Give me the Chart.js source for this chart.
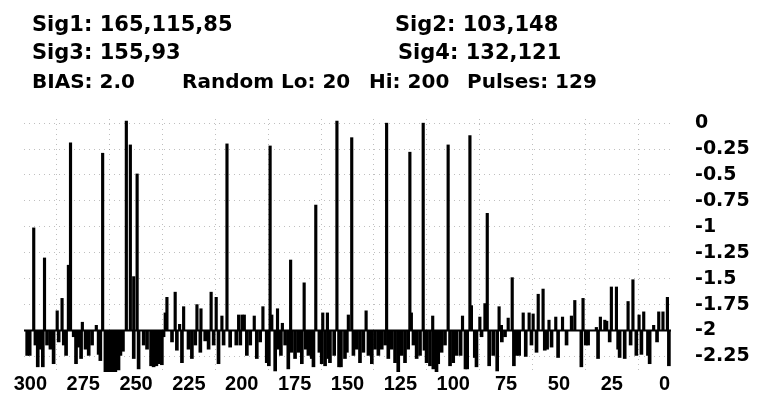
<!DOCTYPE html>
<html>
<head>
<meta charset="utf-8">
<script src="https://cdn.jsdelivr.net/npm/chart.js@4.4.0/dist/chart.umd.min.js"></script>
<style>
  body { margin: 0; background: #fff; }
  #wrap { position: relative; width: 760px; height: 396px; }
  .hdr { position: absolute; font: bold 21px "DejaVu Sans"; line-height: 21px; color: #000; white-space: pre; }
  .hdr.small { font-size: 20px; }
</style>
</head>
<body>
<div id="wrap">
  <canvas id="pulse-chart" width="760" height="396"></canvas>
  <div class="hdr" id="sig1-txt" style="left:32px; top:14px"></div>
  <div class="hdr" id="sig2-txt" style="left:395px; top:14px"></div>
  <div class="hdr" id="sig3-txt" style="left:32px; top:42px"></div>
  <div class="hdr" id="sig4-txt" style="left:398px; top:42px"></div>
  <div class="hdr small" id="bias-txt" style="left:32px; top:71px"></div>
  <div class="hdr small" id="lo-txt" style="left:182px; top:71px"></div>
  <div class="hdr small" id="hi-txt" style="left:369px; top:71px"></div>
  <div class="hdr small" id="pulses-txt" style="left:467px; top:71px"></div>
</div>
<script>
// header values
const sig1 = [165, 115, 85];
const sig2 = [103, 148];
const sig3 = [155, 93];
const sig4 = [132, 121];
const bias = 2.0;
const randomLo = 20;
const randomHi = 200;
const pulseCount = 129;

// axis ticks
const xTicks = [300, 275, 250, 225, 200, 175, 150, 125, 100, 75, 50, 25, 0];
const yTicks = [0, -0.25, -0.5, -0.75, -1, -1.25, -1.5, -1.75, -2, -2.25];

// upward pulses (x position, top value)
const pulseX = [298.4, 293.3, 287.3, 285.0, 282.0, 281.0, 275.4, 268.8, 265.8, 254.6, 252.7, 251.1, 249.5,
  236.2, 235.4, 231.5, 229.4, 227.5, 221.2, 219.3, 214.5, 212.1, 209.4, 207.0, 201.5, 199.9, 198.8,
  194.1, 190.0, 186.6, 185.8, 183.1, 180.8, 176.9, 170.5, 165.0, 161.7, 159.5, 155.0, 149.6, 148.0,
  141.2, 131.5, 120.5, 119.8, 114.2, 109.7, 102.4, 95.6, 92.1, 91.4, 87.4, 85.0, 83.9, 78.3, 77.2,
  74.0, 72.1, 66.9, 64.1, 62.2, 59.8, 57.5, 54.7, 51.5, 48.3, 44.1, 42.5, 38.6, 32.3, 30.4, 28.3,
  27.4, 25.2, 22.8, 17.3, 15.0, 12.1, 9.9, 5.2, 2.8, 0.8, -1.3];
const pulseY = [-1.01, -1.30, -1.81, -1.69, -1.37, -0.19, -1.92, -1.95, -0.29, 0.02, -0.21, -1.48, -0.49,
  -1.83, -1.68, -1.63, -1.94, -1.77, -1.75, -1.79, -1.63, -1.68, -1.86, -0.20, -1.85, -1.85, -1.85,
  -1.86, -1.77, -0.22, -1.85, -1.79, -1.93, -1.32, -1.54, -0.79, -1.83, -1.83, 0.02, -1.85, -0.14,
  -1.81, 0.0, -0.28, -1.83, 0.0, -1.86, -0.21, -1.86, -0.12, -1.76, -1.87, -1.74, -0.87, -1.77, -1.95,
  -1.88, -1.49, -1.83, -1.83, -1.84, -1.65, -1.60, -1.90, -1.87, -1.87, -1.86, -1.71, -1.69, -1.97, -1.87, -1.90,
  -1.91, -1.58, -1.58, -1.72, -1.51, -1.85, -1.82, -1.95, -1.82, -1.82, -1.68];

// downward noise (x position, bottom value)
const noiseX = [301.5, 300.3, 297.6, 296.5, 295.2, 294.1, 292.1, 290.5, 289.0, 286.6, 284.2, 283.1,
  279.5, 278.4, 277.1, 276.0, 273.9, 272.4, 270.8, 267.7, 266.9, 264.5, 263.4, 262.2, 260.9, 259.8,
  258.3, 257.4, 256.2, 251.1, 248.8, 246.4, 244.8, 242.9, 241.7, 240.4, 239.2, 237.8, 237.0, 233.0,
  230.7, 228.3, 225.2, 223.6, 222.0, 219.6, 217.3, 215.7, 213.3, 211.0, 208.6, 205.5, 202.6,
  200.7, 197.6, 196.0, 192.9, 191.3, 188.2, 187.2, 184.2, 182.6, 181.5, 179.5, 178.0, 176.4, 174.8,
  173.2, 171.6, 169.8, 168.5, 166.9, 166.1, 163.3, 162.2, 160.6, 159.1, 158.3, 156.3, 154.0, 153.1,
  151.2, 150.3, 147.2, 145.6, 144.1, 142.5, 140.1, 138.5, 137.0, 135.4, 133.8, 132.2, 130.7, 129.1,
  127.5, 126.0, 124.4, 122.8, 121.3, 118.8, 117.3, 115.7, 113.6, 112.6, 111.0, 109.4, 107.9, 107.1,
  105.5, 103.9, 101.5, 100.0, 98.4, 96.5, 94.2, 93.4, 89.8, 89.0, 86.6, 83.0, 81.1, 79.2, 77.0, 75.5,
  71.3, 70.1, 68.8, 65.7, 63.0, 60.6, 56.7, 55.6, 53.5, 50.4, 46.4, 39.4, 37.3, 36.2, 31.5, 26.0,
  22.0, 21.3, 18.9, 16.1, 13.4, 11.0, 7.9, 7.1, 3.6, -2.0];
const noiseY = [-2.24, -2.24, -2.14, -2.35, -2.18, -2.35, -2.14, -2.18, -2.32, -2.11, -2.14, -2.24,
  -2.06, -2.32, -2.16, -2.27, -2.18, -2.24, -2.14, -2.23, -2.29, -2.40, -2.42, -2.43, -2.40, -2.41,
  -2.38, -2.24, -2.20, -2.27, -2.37, -2.14, -2.18, -2.34, -2.35, -2.34, -2.32, -2.33, -2.06, -2.11,
  -2.19, -2.31, -2.18, -2.27, -2.14, -2.21, -2.10, -2.18, -2.14, -2.32, -2.14, -2.16, -2.14,
  -2.14, -2.24, -2.14, -2.27, -2.11, -2.31, -2.34, -2.39, -2.18, -2.24, -2.14, -2.37, -2.21, -2.27,
  -2.21, -2.32, -2.18, -2.24, -2.27, -2.35, -2.21, -2.32, -2.34, -2.27, -2.31, -2.24, -2.35, -2.35,
  -2.27, -2.21, -2.24, -2.18, -2.31, -2.21, -2.24, -2.32, -2.18, -2.24, -2.18, -2.14, -2.27, -2.18,
  -2.31, -2.40, -2.24, -2.31, -2.18, -2.14, -2.27, -2.24, -2.19, -2.31, -2.34, -2.37, -2.40, -2.32,
  -2.21, -2.14, -2.34, -2.31, -2.24, -2.24, -2.37, -2.37, -2.26, -2.35, -2.06, -2.34, -2.24, -2.39, -2.11, -2.06,
  -2.34, -2.24, -2.24, -2.25, -2.14, -2.21, -2.19, -2.18, -2.16, -2.26, -2.14, -2.35, -2.14, -2.14, -2.27, -2.11,
  -2.18, -2.26, -2.27, -2.14, -2.24, -2.23, -2.24, -2.32, -2.11, -2.34];

const xMin = -3;
const xMax = 303;

// header text
document.getElementById('sig1-txt').textContent = 'Sig1: ' + sig1.join(',');
document.getElementById('sig2-txt').textContent = 'Sig2: ' + sig2.join(',');
document.getElementById('sig3-txt').textContent = 'Sig3: ' + sig3.join(',');
document.getElementById('sig4-txt').textContent = 'Sig4: ' + sig4.join(',');
document.getElementById('bias-txt').textContent = 'BIAS: ' + bias.toFixed(1);
document.getElementById('lo-txt').textContent = 'Random Lo: ' + randomLo;
document.getElementById('hi-txt').textContent = 'Hi: ' + randomHi;
document.getElementById('pulses-txt').textContent = 'Pulses: ' + pulseCount;

const pulses = pulseX.map((x, i) => ({ x: x, y: pulseY[i] }));
const noise = noiseX.map((x, i) => ({ x: x, y: noiseY[i] }));
const baseline = [{ x: xMin, y: -bias }, { x: xMax, y: -bias }];

const gridColor = 'rgba(0, 0, 0, 0.25)';

const ctx = document.getElementById('pulse-chart');

const chart = new Chart(ctx, {
type: 'bar',
data: {
    datasets: [{
        type: 'line',
        data: baseline,
        borderColor: '#000',
        borderWidth: 2,
        pointRadius: 0,
        order: 0
    }, {
        data: pulses,
        base: -bias, // bars start at the bias line
        backgroundColor: '#000',
        barThickness: 2.5,
        grouped: false,
        order: 1
    }, {
        data: noise,
        base: -bias,
        backgroundColor: '#000',
        barThickness: 3,
        grouped: false,
        order: 1
    }]
},
options: {
    responsive: false,
    animation: false,
    layout: {
        padding: { left: 24, top: 119, right: 10, bottom: 0 }
    },
    plugins: {
        legend: { display: false },
        tooltip: { enabled: false }
    },
    scales: {
    x: {
        type: 'linear',
        reverse: true,
        min: xMin,
        max: xMax,
        offset: false,
        afterBuildTicks: scale => { scale.ticks = xTicks.map(v => ({ value: v })); },
        afterFit: scale => { scale.height = 24; },
        ticks: {
            color: '#000',
            padding: 0,
            maxRotation: 0,
            autoSkip: false,
            font: { family: 'Liberation Sans', weight: 'bold', size: 20 }
        },
        grid: { color: gridColor, drawTicks: false },
        border: { display: false, dash: [1, 4] }
    },
    y: {
        position: 'right',
        min: -2.4,
        max: 0.04,
        afterBuildTicks: scale => { scale.ticks = yTicks.map(v => ({ value: v })); },
        // fixed width, and no extra room above/below for the labels
        afterFit: scale => {
            scale.width = 79;
            scale.paddingTop = 0;
            scale.paddingBottom = 0;
        },
        ticks: {
            color: '#000',
            padding: 24,
            callback: v => String(v),
            font: { family: 'DejaVu Sans', weight: 'bold', size: 19 }
        },
        grid: { color: gridColor, drawTicks: false },
        border: { display: false, dash: [1, 4] }
    }
    }
}
});
</script>
</body>
</html>
